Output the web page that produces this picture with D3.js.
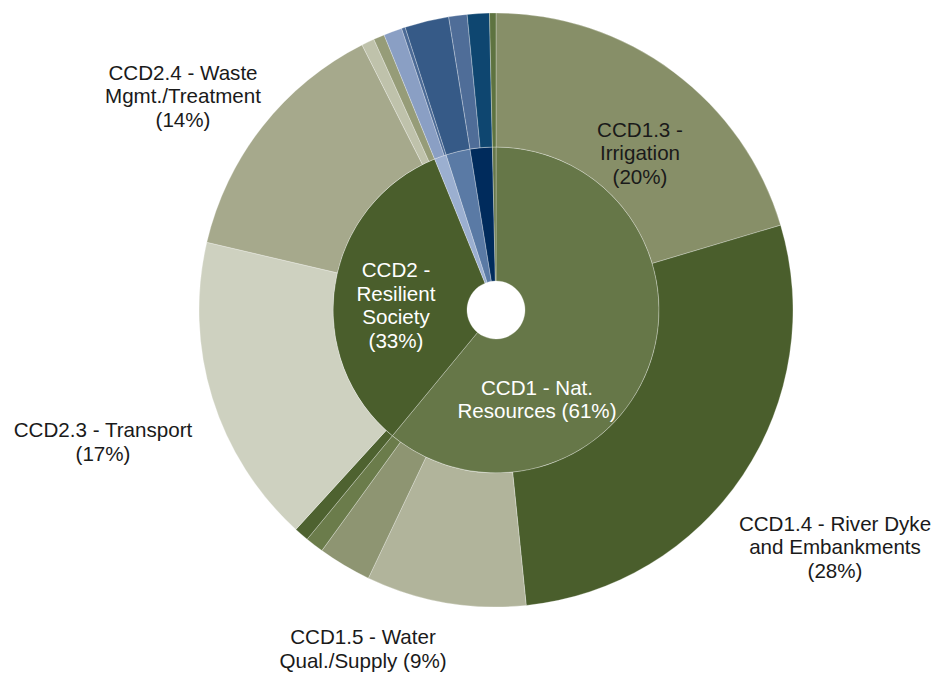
<!DOCTYPE html>
<html>
<head>
<meta charset="utf-8">
<script src="https://cdn.jsdelivr.net/npm/d3@7/dist/d3.min.js"></script>
<style>
  html, body { margin: 0; padding: 0; background: #ffffff; }
  svg { display: block; }
  text { font-family: "Liberation Sans", Arial, Helvetica, sans-serif; }
</style>
</head>
<body>
<svg id="chart" width="936" height="673"></svg>
<script>
// Top-level climate change domains (inner ring)
const groups = ["CCD1 - Nat. Resources", "CCD2 - Resilient Society", "CCD3", "CCD4", "CCD5", "CCD6"];
const groupColors = ["#667748", "#4a5e2c", "#9bafd0", "#5a7aa5", "#002b5c", "#66774a"];

// Sub-domains (outer ring): name, parent index, share of total (%)
const subCategories = [
  "CCD1.3 - Irrigation", "CCD1.4 - River Dyke and Embankments", "CCD1.5 - Water Qual./Supply",
  "CCD1.6", "CCD1.7",
  "CCD2.1", "CCD2.3 - Transport", "CCD2.4 - Waste Mgmt./Treatment", "CCD2.5", "CCD2.6",
  "CCD3.1", "CCD3.2",
  "CCD4.1",
  "CCD5.1", "CCD5.2",
  "CCD6.1"
];
const subParent = [0, 0, 0, 0, 0, 1, 1, 1, 1, 1, 2, 2, 3, 4, 4, 5];
const subShare  = [20.4, 28.0, 8.7, 2.9, 1.0, 0.8, 16.9, 13.9, 0.7, 0.6, 1.0, 0.2, 2.4, 1.0, 1.2, 0.35];
const subColors = [
  "#878f68", "#4a5e2c", "#b1b49b", "#8e9572", "#6b7c4b",
  "#4e6230", "#ced1c0", "#a6a98c", "#bfc2ab", "#969c78",
  "#8a9fc4", "#4b6a96",
  "#365a87",
  "#4f6d98", "#0e4670",
  "#5e7340"
];

// Label text layout ({p} is replaced by the rounded share)
const labelLayout = [
  { name: "CCD1.3 - Irrigation", lines: ["CCD1.3 -", "Irrigation", "({p})"], x: 640, y: 153, fill: "#1a1a1a" },
  { name: "CCD1.4 - River Dyke and Embankments", lines: ["CCD1.4 - River Dyke", "and Embankments", "({p})"], x: 835, y: 547, fill: "#1a1a1a" },
  { name: "CCD1.5 - Water Qual./Supply", lines: ["CCD1.5 - Water", "Qual./Supply ({p})"], x: 363, y: 648.5, fill: "#1a1a1a" },
  { name: "CCD2.3 - Transport", lines: ["CCD2.3 - Transport", "({p})"], x: 103, y: 441.5, fill: "#1a1a1a" },
  { name: "CCD2.4 - Waste Mgmt./Treatment", lines: ["CCD2.4 - Waste", "Mgmt./Treatment", "({p})"], x: 183, y: 96, fill: "#1a1a1a" },
  { name: "CCD1 - Nat. Resources", lines: ["CCD1 - Nat.", "Resources ({p})"], x: 537, y: 399, fill: "#ffffff" },
  { name: "CCD2 - Resilient Society", lines: ["CCD2 -", "Resilient", "Society", "({p})"], x: 396, y: 305, fill: "#ffffff" }
];

const cx = 496, cy = 310;
const rHole = 29, rInner = 163, rOuter = 297;
const fontSize = 20.6, lineGap = 23.4;

const tree = {
  name: "root",
  children: groups.map((g, i) => ({
    name: g,
    color: groupColors[i],
    children: subCategories
      .map((s, j) => ({ name: s, value: subShare[j], color: subColors[j], parent: subParent[j] }))
      .filter(c => c.parent === i)
  }))
};

const root = d3.hierarchy(tree).sum(d => d.children ? 0 : d.value);
d3.partition().size([2 * Math.PI, 3])(root);

const radius = d3.scaleLinear().domain([1, 2, 3]).range([rHole, rInner, rOuter]);

const arc = d3.arc()
  .startAngle(d => d.x0)
  .endAngle(d => d.x1)
  .innerRadius(d => radius(d.depth))
  .outerRadius(d => radius(d.depth + 1));

const svg = d3.select("#chart");
const g = svg.append("g").attr("transform", `translate(${cx},${cy})`);

g.selectAll("path")
  .data(root.descendants().filter(d => d.depth > 0))
  .join("path")
  .attr("d", arc)
  .attr("fill", d => d.data.color)
  .attr("stroke", "#ffffff")
  .attr("stroke-opacity", 0.4)
  .attr("stroke-width", 0.7);

const total = root.value;
const pct = d3.format(".0%");
const byName = new Map(root.descendants().map(d => [d.data.name, d]));

const labels = svg.append("g")
  .attr("font-size", fontSize)
  .attr("text-anchor", "middle");

labelLayout.forEach(l => {
  const node = byName.get(l.name);
  const share = pct(node.value / total);
  const n = l.lines.length;
  const t = labels.append("text").attr("fill", l.fill);
  l.lines.forEach((line, i) => {
    t.append("tspan")
      .attr("x", l.x)
      .attr("y", l.y + (i - (n - 1) / 2) * lineGap)
      .attr("dy", "0.36em")
      .text(line.replace("{p}", share));
  });
});
</script>
</body>
</html>
